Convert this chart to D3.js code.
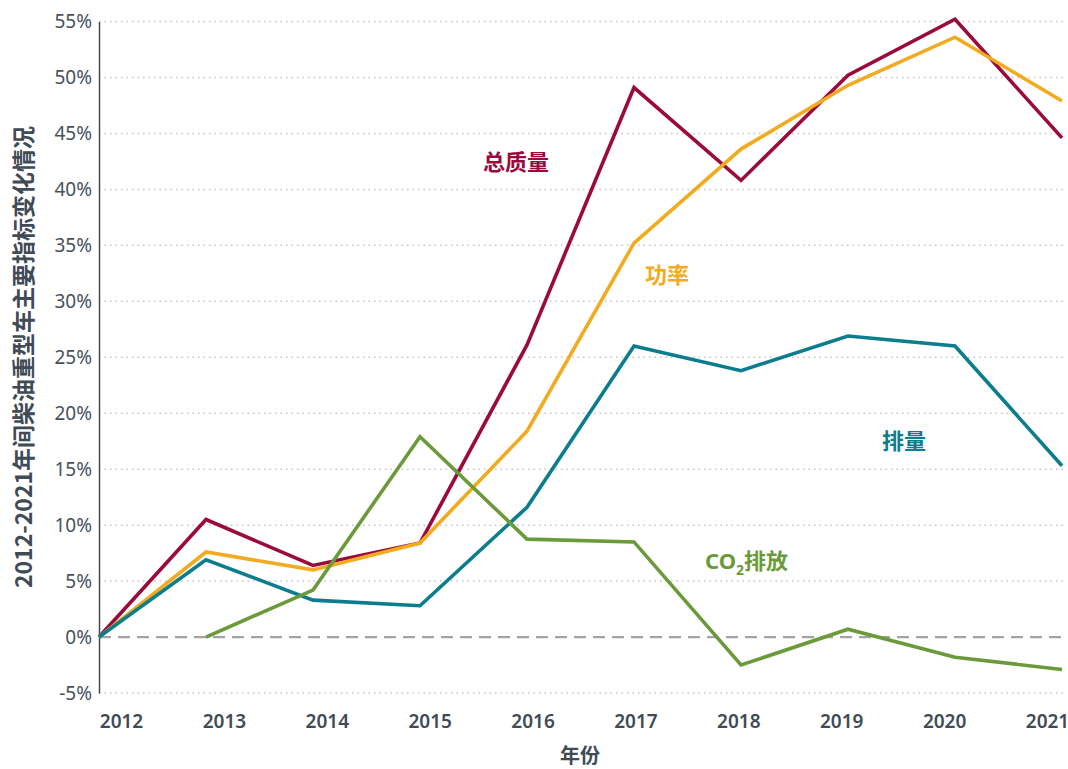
<!DOCTYPE html>
<html>
<head>
<meta charset="utf-8">
<script src="https://cdn.jsdelivr.net/npm/d3@7"></script>
<style>
  body { margin: 0; background: #fff; }
  text { font-family: "Noto Sans", "Noto Sans CJK SC", sans-serif; }
</style>
</head>
<body>
<script>
const years = [2012, 2013, 2014, 2015, 2016, 2017, 2018, 2019, 2020, 2021];
const yTicks = [-5, 0, 5, 10, 15, 20, 25, 30, 35, 40, 45, 50, 55];
const massValues = [0, 10.5, 6.4, 8.4, 26.1, 49.1, 40.8, 50.2, 55.2, 44.6];
const powerValues = [0, 7.6, 6.0, 8.4, 18.4, 35.2, 43.6, 49.3, 53.6, 47.9];
const dispValues = [0, 6.9, 3.3, 2.8, 11.6, 26.0, 23.8, 26.9, 26.0, 15.3];
const co2Values = [null, 0, 4.2, 17.9, 8.75, 8.5, -2.5, 0.7, -1.8, -2.9];
const seriesNames = ["总质量", "功率", "排量", "CO2排放"];
const colors = ["#9b0a3c", "#f2ab1e", "#0b7d8d", "#6b9a3b"];

const width = 1068, height = 769;
const plotLeft = 99, plotRight = 1062, plotTop = 21.5, plotBottom = 693;

const svg = d3.select("body").append("svg")
  .attr("width", width)
  .attr("height", height);

const x = d3.scalePoint().domain(years).range([plotLeft, plotRight]);
// tick labels are spread a bit differently from the data points
const xLabel = d3.scalePoint().domain(years).range([121, 1047]);
const y = d3.scaleLinear().domain([-5, 55]).range([plotBottom, plotTop]);

// Grid
svg.append("g")
  .selectAll("line")
  .data(yTicks.filter(d => d !== 0))
  .enter()
  .append("line")
  .attr("x1", plotLeft)
  .attr("x2", plotRight + 2)
  .attr("y1", d => y(d))
  .attr("y2", d => y(d))
  .attr("stroke", "#c4c4c4")
  .attr("stroke-width", 1.5)
  .attr("stroke-dasharray", "1.5,4");

// Zero line
svg.append("line")
  .attr("x1", plotLeft)
  .attr("x2", plotRight + 2)
  .attr("y1", y(0))
  .attr("y2", y(0))
  .attr("stroke", "#a3a3a3")
  .attr("stroke-width", 2.2)
  .attr("stroke-dasharray", "12,7");

// Y axis
const yAxis = d3.axisLeft(y)
  .tickValues(yTicks)
  .tickFormat(d => d + "%")
  .tickSize(0)
  .tickPadding(7);

const yg = svg.append("g")
  .attr("transform", `translate(${plotLeft}, 0)`)
  .call(yAxis);
yg.select(".domain").attr("stroke", "#3f4b56").attr("stroke-width", 1.5);
yg.selectAll("text")
  .attr("fill", "#46525c")
  .style("font-size", "19px");

// X labels
const xAxis = d3.axisBottom(xLabel).tickSize(0).tickPadding(0);
const xg = svg.append("g")
  .attr("transform", `translate(0, 714)`)
  .call(xAxis);
xg.select(".domain").remove();
xg.selectAll("text")
  .attr("fill", "#3f4b56")
  .style("font-size", "19px")
  .style("font-weight", "600");

// Axis titles
svg.append("text")
  .attr("x", 580)
  .attr("y", 763)
  .attr("text-anchor", "middle")
  .attr("fill", "#3f4b56")
  .style("font-size", "20px")
  .style("font-weight", "bold")
  .style("font-family", "'Noto Sans CJK SC'")
  .text("年份");

svg.append("text")
  .attr("transform", "translate(32, 357) rotate(-90)")
  .attr("text-anchor", "middle")
  .attr("fill", "#3f4b56")
  .style("font-size", "23px")
  .style("font-weight", "bold")
  .style("font-family", "'Noto Sans CJK SC'")
  .text("2012-2021年间柴油重型车主要指标变化情况");

// Lines
const allSeries = [massValues, powerValues, dispValues, co2Values];
const line = d3.line()
  .defined(d => d.v !== null)
  .x(d => x(d.year))
  .y(d => y(d.v));

allSeries.forEach((vals, i) => {
  svg.append("path")
    .datum(years.map((yr, j) => ({ year: yr, v: vals[j] })))
    .attr("fill", "none")
    .attr("stroke", colors[i])
    .attr("stroke-width", 3.6)
    .attr("stroke-linejoin", "miter")
    .attr("d", line);
});

// Series labels
const labelPos = [[516, 170], [667, 283], [904, 449], [705, 569]];
labelPos.forEach((p, i) => {
  const t = svg.append("text")
    .attr("x", p[0])
    .attr("y", p[1])
    .attr("text-anchor", i === 3 ? "start" : "middle")
    .attr("fill", colors[i])
    .style("font-size", "22px")
    .style("font-weight", "bold")
    .style("font-family", "'Noto Sans CJK SC'");
  if (i === 3) {
    t.append("tspan").text("CO").style("font-family", "'Noto Sans'");
    t.append("tspan").text("2").attr("dy", 6).style("font-size", "14px").style("font-family", "'Noto Sans'");
    t.append("tspan").text("排放").attr("dy", -6);
  } else {
    t.text(seriesNames[i]);
  }
});
</script>
</body>
</html>
